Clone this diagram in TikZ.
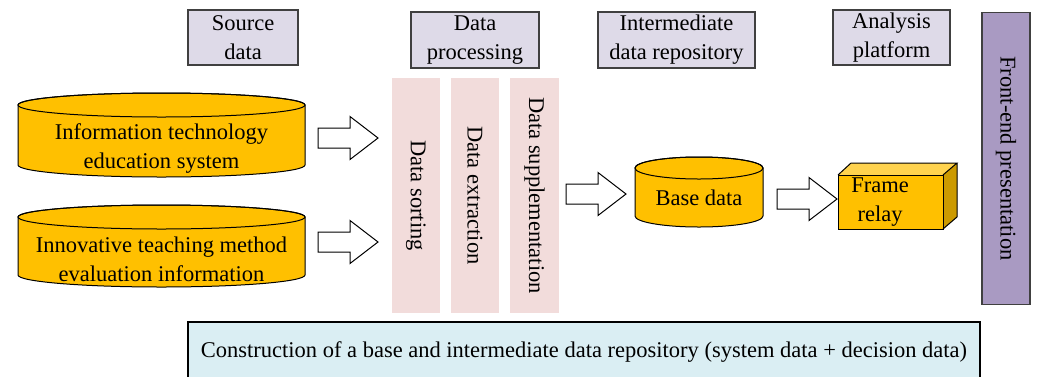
\documentclass[tikz,border=0pt]{standalone}
\usepackage{fontspec}
\setmainfont{Liberation Serif}
\usetikzlibrary{positioning}

\definecolor{headfill}{HTML}{DEDAE8}
\definecolor{frontfill}{HTML}{A99AC2}
\definecolor{colfill}{HTML}{F2DCDB}
\definecolor{cylfill}{HTML}{FFC000}
\definecolor{cubetop}{HTML}{FFD34F}
\definecolor{cubeside}{HTML}{CC9A00}
\definecolor{basefill}{HTML}{DAEEF3}

\tikzset{
  headbox/.style={draw=black!75,line width=1.2pt,fill=headfill,align=center,inner sep=0pt},
  colbox/.style={fill=colfill,inner sep=0pt,rotate=-90},
  cyltext/.style={align=center,inner sep=0pt},
  blockarrow/.pic={
    \draw[fill=white,line width=1pt] (0,-10) -- (32,-10) -- (32,-21.5) -- (60,0)
      -- (32,21.5) -- (32,10) -- (0,10) -- cycle;
  }
}

% cylinder: x1, x2, top y, bottom y, y radius
\newcommand{\dbcyl}[5]{%
  \pgfmathsetmacro{\rx}{(#2-#1)/2}%
  \draw[fill=cylfill,line width=1pt] (#1,#3) -- (#1,#4)
    arc[start angle=180,end angle=0,x radius=\rx,y radius=#5] -- (#2,#3)
    arc[start angle=0,end angle=-180,x radius=\rx,y radius=#5] -- cycle;
  \draw[line width=1pt] ({(#1+#2)/2},#3) ellipse[x radius=\rx,y radius=#5];
}

\begin{document}
\begin{tikzpicture}[x=1pt,y=-1pt,font=\fontsize{22.5}{29}\selectfont]
  \useasboundingbox (0,0) rectangle (1037,376);

  % headers
  \node[headbox,minimum width=110,minimum height=55] (src) at (243,37.5) {Source\\data};
  \node[headbox,minimum width=128,minimum height=56] (proc) at (475,40) {Data\\processing};
  \node[headbox,minimum width=157,minimum height=56] (inter) at (676.5,40) {Intermediate\\data repository};
  \node[headbox,minimum width=117,minimum height=55] (anal) at (891.5,37.5) {Analysis\\platform};
  \node[headbox,rotate=-90,minimum width=292,minimum height=48,fill=frontfill] (front) at (1006,158.5) {Front-end presentation};

  % source cylinders
  \dbcyl{18}{305}{105}{165}{12}
  \node[cyltext] (sys) at (161.5,149) {Information technology\\education system};
  \dbcyl{18}{305}{217}{275}{12}
  \node[cyltext] (eval) at (161.5,259) {Innovative teaching method\\evaluation information};

  \pic at (318,138) {blockarrow};
  \pic at (318,242) {blockarrow};

  % processing columns
  \node[colbox,minimum width=235,minimum height=48] (sort) at (416,195.5) {Data sorting};
  \node[colbox,minimum width=235,minimum height=48] (extr) at (475,195.5) {Data extraction};
  \node[colbox,minimum width=235,minimum height=49] (supp) at (534.5,195.5) {Data supplementation};

  \pic at (566,194) {blockarrow};

  % base data
  \dbcyl{635}{763}{168}{216}{11}
  \node[cyltext] (base) at (699,198) {Base data};

  \pic at (777,199) {blockarrow};

  % frame relay cube
  \fill[cubetop] (838,175) -- (851,163) -- (957,163) -- (943,175) -- cycle;
  \fill[cubeside] (943,175) -- (957,163) -- (957,217) -- (943,229) -- cycle;
  \draw[fill=cylfill,line width=1pt] (838,175) rectangle (943,229);
  \draw[line width=1pt] (838,175) -- (851,163) -- (957,163) -- (943,175)
    (957,163) -- (957,217) -- (943,229);
  \node[cyltext] (relay) at (880,202) {Frame\\relay};

  % bottom box
  \draw[fill=basefill,line width=1.2pt] (188,322) rectangle (980,390);
  \node[inner sep=0pt] (constr) at (584,352) {Construction of a base and intermediate data repository (system data + decision data)};
\end{tikzpicture}
\end{document}
